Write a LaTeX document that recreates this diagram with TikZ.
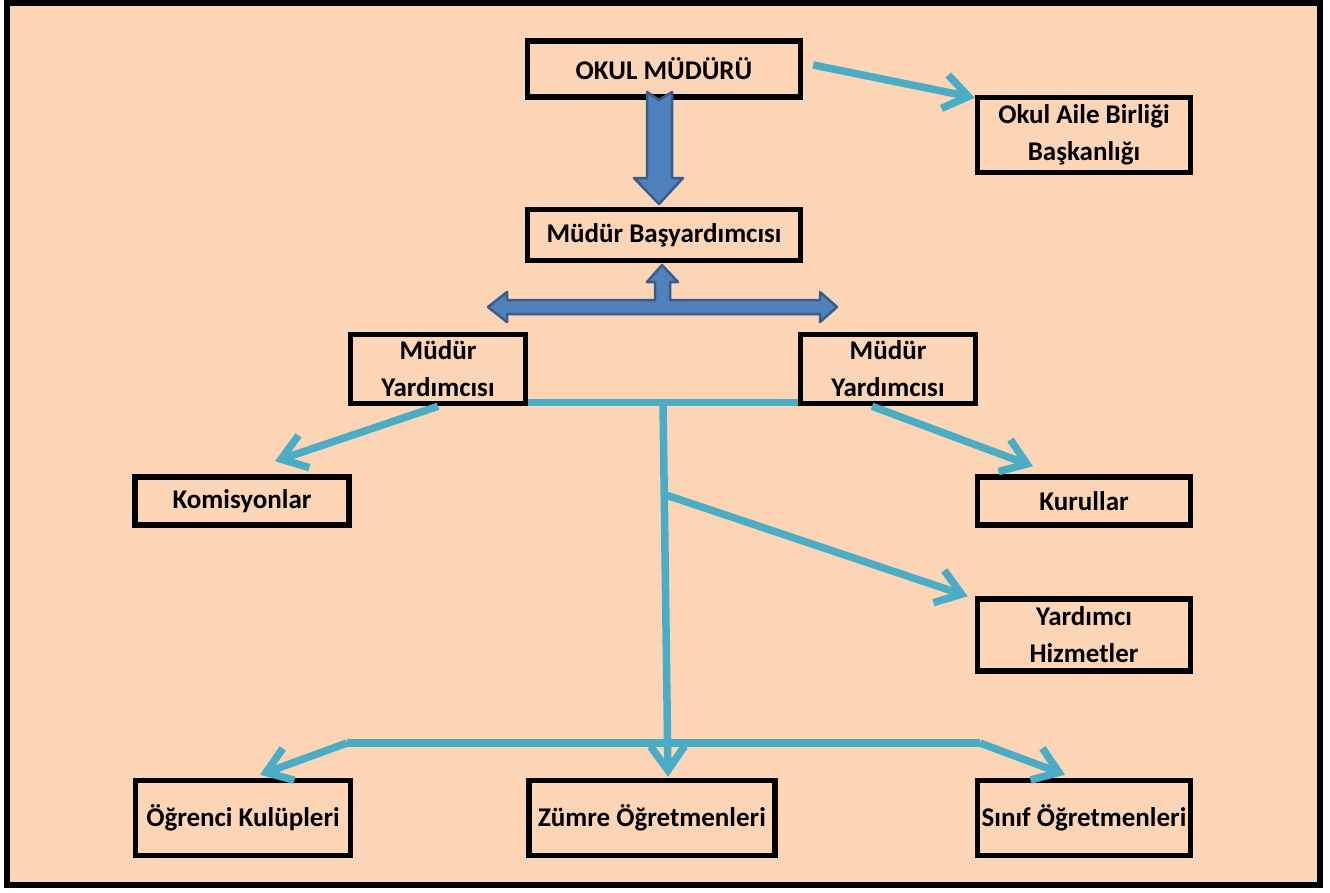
\documentclass[tikz,border=0pt]{standalone}
\usepackage{fontspec}
\setmainfont{Carlito}
\usetikzlibrary{arrows.meta}
\definecolor{peach}{HTML}{FBD5B5}
\definecolor{aqua}{HTML}{4BACC6}
\definecolor{steel}{HTML}{4F81BD}
\definecolor{steeldark}{HTML}{385D8A}
\begin{document}
\begin{tikzpicture}[x=1pt, y=-1pt,
  box/.style={draw=black, line width=5.5pt, inner sep=0pt, align=center, font=\fontsize{27}{37}\selectfont\bfseries},
  line/.style={draw=aqua, line width=7.5pt},
  link/.style={line, -{Straight Barb[length=24pt,width=34pt]}},
  bigarrow/.style={fill=steel, draw=steeldark, line width=2.5pt, line join=round}]
\useasboundingbox (0,0) rectangle (1330,892);
\draw[line width=6pt, fill=peach] (7,3) rectangle (1320,885);

\node[box, minimum width=273, minimum height=56] at (664,69) (okul) {OKUL MÜDÜRÜ};
\node[box, minimum width=213, minimum height=75] at (1084,135) (aile) {Okul Aile Birliği\\Başkanlığı};
\node[box, minimum width=273, minimum height=51] at (664,235) (basyrd) {Müdür Başyardımcısı};
\node[box, minimum width=175, minimum height=69] at (438,369) (myL) {Müdür\\Yardımcısı};
\node[box, minimum width=175, minimum height=69] at (888,369) (myR) {Müdür\\Yardımcısı};
\node[box, minimum width=214, minimum height=48] at (242,501) (komis) {Komisyonlar};
\node[box, minimum width=213, minimum height=48] at (1084,501) (kurul) {Kurullar};
\node[box, minimum width=213, minimum height=72] at (1084,635) (yrdh) {Yardımcı\\Hizmetler};
\node[box, minimum width=215, minimum height=75] at (243,818) (ogr) {Öğrenci Kulüpleri};
\node[box, minimum width=246, minimum height=75] at (652,818) (zumre) {Zümre Öğretmenleri};
\node[box, minimum width=213, minimum height=75] at (1084,818) (sinif) {Sınıf Öğretmenleri};

\coordinate (jTop) at (663,402);
\coordinate (jMid) at (666,495);
\coordinate (bL) at (347,743);
\coordinate (bR) at (980,743);

\draw[bigarrow] (647,92) -- (659,100) -- (672,92) -- (672,178) -- (683,178) -- (659,204)
  -- (634,178) -- (647,178) -- cycle;
\draw[bigarrow] (488,307) -- (507,292) -- (507,300) -- (655,300) -- (655,282) -- (647,282)
  -- (662,265) -- (678,282) -- (670,282) -- (670,300) -- (820,300) -- (820,292) -- (837,307)
  -- (820,322) -- (820,314) -- (507,314) -- (507,322) -- cycle;

\draw[link] ([xshift=10pt,yshift=4pt]okul.east) -- ([yshift=-3pt]aile.north west);
\draw[line] ([yshift=4pt]myL.south east) -- ([yshift=4pt]myR.south west);
\draw[link] (myL.south) -- ([xshift=33pt,yshift=13pt]komis.north);
\draw[link] ([xshift=-16pt]myR.south) -- ([xshift=-51pt,yshift=8pt]kurul.north);
\draw[link] (jTop) -- ([xshift=16pt,yshift=1pt]zumre.north);
\draw[link] (jMid) -- ([xshift=-7pt]yrdh.north west);
\draw[line] (bL) -- (bR);
\draw[link] (bL) -- ([xshift=17pt,yshift=3pt]ogr.north);
\draw[link] (bR) -- ([xshift=-19pt,yshift=3pt]sinif.north);
\end{tikzpicture}
\end{document}
